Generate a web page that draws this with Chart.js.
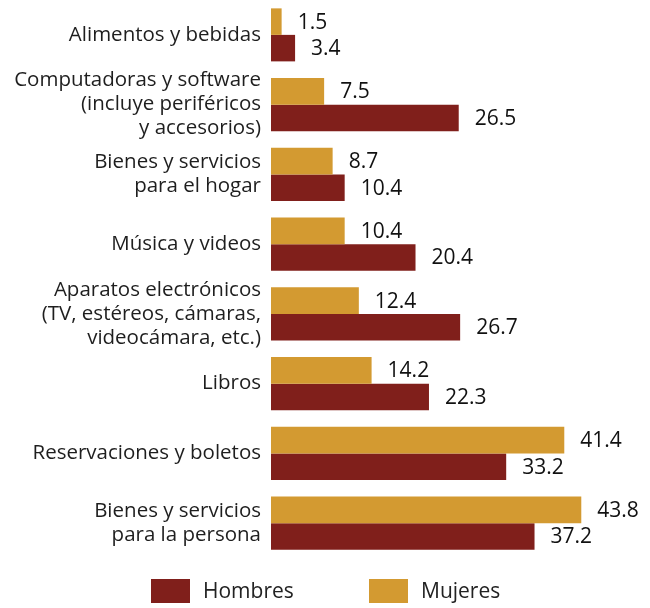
<!DOCTYPE html>
<html>
<head>
<meta charset="utf-8">
<script src="https://cdn.jsdelivr.net/npm/chart.js@4.4.0/dist/chart.umd.min.js"></script>
<style>
  html, body { margin: 0; padding: 0; background: #fff; }
  #wrap { width: 650px; height: 608px; }
</style>
</head>
<body>
<div id="wrap"><canvas id="chart" width="650" height="608"></canvas></div>
<script>
// Categories (top to bottom)
const categories = [
  ["Alimentos y bebidas"],
  ["Computadoras y software", "(incluye periféricos", "y accesorios)"],
  ["Bienes y servicios", "para el hogar"],
  ["Música y videos"],
  ["Aparatos electrónicos", "(TV, estéreos, cámaras,", "videocámara, etc.)"],
  ["Libros"],
  ["Reservaciones y boletos"],
  ["Bienes y servicios", "para la persona"]
];
const mujeres = [1.5, 7.5, 8.7, 10.4, 12.4, 14.2, 41.4, 43.8];
const hombres = [3.4, 26.5, 10.4, 20.4, 26.7, 22.3, 33.2, 37.2];
// legend order as in the picture
const legendOrder = ["Hombres", "Mujeres"];

const FONT = "'Open Sans', 'Liberation Sans', sans-serif";

// value labels at the end of each bar
const valueLabels = {
  id: "valueLabels",
  afterDatasetsDraw(chart) {
    const ctx = chart.ctx;
    ctx.save();
    ctx.font = "21px " + FONT;
    ctx.fillStyle = "#111";
    ctx.textBaseline = "middle";
    ctx.textAlign = "left";
    chart.data.datasets.forEach((ds, i) => {
      chart.getDatasetMeta(i).data.forEach((bar, j) => {
        ctx.fillText(ds.data[j].toFixed(1), bar.x + 16, bar.y + 1);
      });
    });
    ctx.restore();
  }
};

// simple bottom legend (boxes + names)
const bottomLegend = {
  id: "bottomLegend",
  afterDraw(chart) {
    const ctx = chart.ctx;
    const starts = [151, 369];
    ctx.save();
    ctx.font = "21px " + FONT;
    ctx.textBaseline = "middle";
    ctx.textAlign = "left";
    legendOrder.forEach((name, k) => {
      const ds = chart.data.datasets.find(d => d.label === name);
      ctx.fillStyle = ds.backgroundColor;
      ctx.fillRect(starts[k], 579, 39, 24);
      ctx.fillStyle = "#222";
      ctx.fillText(name, starts[k] + 52, 592);
    });
    ctx.restore();
  }
};

new Chart(document.getElementById("chart"), {
  type: "bar",
  data: {
    labels: categories,
    datasets: [
      {
        label: "Mujeres",
        data: mujeres,
        backgroundColor: "#d39a31",
        categoryPercentage: 0.76,
        barPercentage: 1.0
      },
      {
        label: "Hombres",
        data: hombres,
        backgroundColor: "#801f1b",
        categoryPercentage: 0.76,
        barPercentage: 1.0
      }
    ]
  },
  options: {
    indexAxis: "y",
    responsive: false,
    animation: false,
    layout: { padding: { top: 0, right: 0, left: 0, bottom: 50 } },
    scales: {
      x: {
        display: false,
        min: 0,
        max: 53.5
      },
      y: {
        grid: { display: false },
        border: { display: false },
        ticks: {
          autoSkip: false,
          color: "#1e1e1e",
          font: { family: FONT, size: 20.5, lineHeight: 1.17 },
          padding: 2
        },
        afterFit(scale) {
          scale.width = 271;
          scale.paddingTop = 0;
          scale.paddingBottom = 0;
        }
      }
    },
    plugins: {
      legend: { display: false },
      tooltip: { enabled: false }
    }
  },
  plugins: [valueLabels, bottomLegend]
});
</script>
</body>
</html>
